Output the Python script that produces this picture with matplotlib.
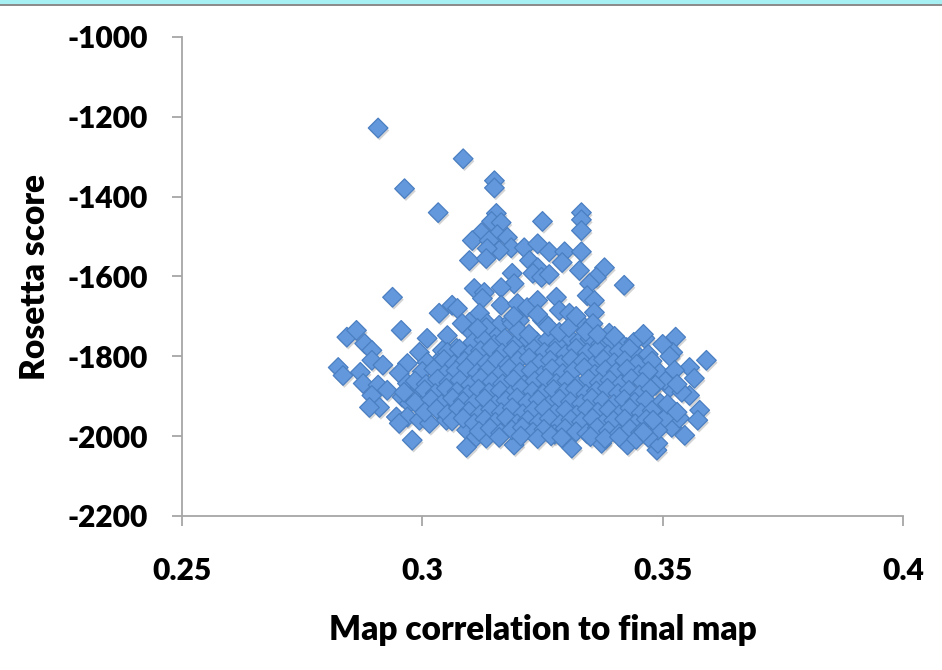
import matplotlib
matplotlib.use("Agg")
import matplotlib.pyplot as plt
import matplotlib.patheffects as pe
from matplotlib.patches import Rectangle

# ---- data ----
points = [
    # sparse upper / outer points
    (0.2908, -1228), (0.3085, -1305), (0.2963, -1380), (0.3033, -1440),
    (0.3150, -1360), (0.3150, -1378), (0.3154, -1442), (0.3250, -1462),
    (0.3331, -1440), (0.3331, -1458), (0.3331, -1485), (0.3144, -1462),
    (0.3164, -1465), (0.3123, -1490), (0.3104, -1510), (0.3156, -1495),
    (0.3177, -1502), (0.3139, -1510), (0.3185, -1528), (0.3160, -1535),
    (0.3135, -1530), (0.3098, -1560), (0.3133, -1555), (0.3212, -1528),
    (0.3240, -1518), (0.3264, -1538), (0.3296, -1538), (0.3291, -1565),
    (0.3331, -1538), (0.3223, -1560), (0.3240, -1578), (0.3230, -1592),
    (0.3248, -1602), (0.3264, -1595), (0.3327, -1585), (0.3379, -1578),
    (0.3362, -1602), (0.3348, -1618), (0.3343, -1648), (0.3420, -1622),
    (0.3187, -1592), (0.3191, -1618), (0.3164, -1628), (0.3108, -1630),
    (0.3129, -1640), (0.3125, -1655), (0.2938, -1652), (0.3062, -1672),
    (0.3073, -1680), (0.3035, -1692), (0.3164, -1672), (0.3198, -1668),
    (0.3218, -1678), (0.3240, -1660), (0.3279, -1652), (0.3285, -1685),
    (0.3306, -1692), (0.3327, -1715), (0.3358, -1660), (0.3358, -1690),
    (0.3119, -1692), (0.3098, -1715), (0.3135, -1718), (0.3160, -1722),
    (0.3185, -1710), (0.3202, -1710), (0.3250, -1710), (0.2956, -1735),
    (0.2843, -1752), (0.2863, -1735), (0.2880, -1768), (0.2895, -1785),
    (0.3010, -1755), (0.3052, -1748), (0.3071, -1780), (0.3389, -1742),
    (0.2994, -1790), (0.2969, -1818), (0.2825, -1828), (0.2835, -1848),
    (0.2871, -1840), (0.2895, -1810), (0.2918, -1822), (0.2877, -1868),
    (0.2908, -1872), (0.2895, -1898), (0.2927, -1885), (0.2911, -1928),
    (0.2890, -1928), (0.2952, -1842), (0.2969, -1868), (0.2994, -1878),
    (0.2958, -1902), (0.2973, -1918), (0.2946, -1952), (0.2969, -1952),
    (0.2994, -1960), (0.2979, -2010), (0.2952, -1968), (0.3029, -1818),
    (0.3042, -1785), (0.3071, -1815), (0.3083, -1810), (0.3029, -1860),
    (0.3015, -1902), (0.3035, -1935), (0.3015, -1968), (0.3050, -1960),
    (0.3092, -1985), (0.3092, -2028), (0.3112, -2002), (0.3133, -2005),
    (0.3083, -1718), (0.3104, -1742), (0.3133, -1728), (0.3154, -1752),
    (0.3175, -1760), (0.3187, -1718), (0.3591, -1810), (0.3577, -1935),
    (0.3546, -1998), (0.3519, -1978), (0.3535, -1955), (0.3504, -1955),
    (0.3527, -1752), (0.3521, -1790), (0.3556, -1828), (0.3566, -1855),
    (0.3556, -1898), (0.3515, -1878), (0.3504, -1860), (0.3488, -1835),
    (0.3463, -1755), (0.3452, -1802), (0.3425, -1778), (0.3355, -1718),
    (0.3311, -2030), (0.3191, -2022), (0.3373, -2018), (0.3427, -2022),
    (0.3488, -2035), (0.3490, -2018), (0.3573, -1960),
    # dense core
    (0.3105, -1765), (0.3128, -1758), (0.3150, -1770), (0.3172, -1755),
    (0.3196, -1768), (0.3215, -1752), (0.3238, -1764), (0.3261, -1758),
    (0.3283, -1771), (0.3304, -1750), (0.3327, -1762), (0.3349, -1756),
    (0.3371, -1769), (0.3394, -1760), (0.3418, -1773), (0.3440, -1765),
    (0.3052, -1790), (0.3077, -1782), (0.3099, -1795), (0.3121, -1786),
    (0.3143, -1779), (0.3166, -1792), (0.3188, -1784), (0.3209, -1797),
    (0.3232, -1781), (0.3254, -1790), (0.3276, -1787), (0.3298, -1795),
    (0.3320, -1780), (0.3343, -1791), (0.3365, -1784), (0.3386, -1796),
    (0.3409, -1788), (0.3431, -1781), (0.3470, -1795),
    (0.3010, -1815), (0.3045, -1808), (0.3066, -1820), (0.3088, -1812),
    (0.3111, -1805), (0.3133, -1818), (0.3155, -1809), (0.3177, -1822),
    (0.3199, -1811), (0.3222, -1804), (0.3244, -1817), (0.3266, -1810),
    (0.3289, -1821), (0.3310, -1806), (0.3333, -1814), (0.3355, -1823),
    (0.3377, -1808), (0.3399, -1816), (0.3421, -1811), (0.3446, -1820),
    (0.3478, -1812),
    (0.3000, -1838), (0.3024, -1832), (0.3047, -1845), (0.3070, -1836),
    (0.3092, -1829), (0.3114, -1842), (0.3136, -1834), (0.3159, -1847),
    (0.3181, -1830), (0.3203, -1840), (0.3226, -1836), (0.3248, -1848),
    (0.3270, -1831), (0.3292, -1843), (0.3314, -1837), (0.3337, -1829),
    (0.3359, -1845), (0.3381, -1834), (0.3403, -1840), (0.3426, -1832),
    (0.3450, -1846), (0.3470, -1838),
    (0.2985, -1862), (0.3008, -1870), (0.3032, -1857), (0.3055, -1866),
    (0.3078, -1860), (0.3100, -1872), (0.3122, -1855), (0.3145, -1864),
    (0.3167, -1869), (0.3190, -1858), (0.3212, -1871), (0.3234, -1862),
    (0.3257, -1855), (0.3279, -1868), (0.3301, -1861), (0.3323, -1873),
    (0.3346, -1857), (0.3368, -1866), (0.3390, -1860), (0.3413, -1870),
    (0.3435, -1856), (0.3458, -1865), (0.3485, -1872),
    (0.2962, -1890), (0.3005, -1884), (0.3027, -1893), (0.3050, -1880),
    (0.3072, -1889), (0.3095, -1896), (0.3117, -1882), (0.3139, -1891),
    (0.3162, -1886), (0.3184, -1897), (0.3206, -1879), (0.3229, -1888),
    (0.3251, -1894), (0.3273, -1883), (0.3296, -1890), (0.3318, -1881),
    (0.3340, -1895), (0.3362, -1887), (0.3385, -1880), (0.3407, -1893),
    (0.3430, -1885), (0.3452, -1897), (0.3475, -1882), (0.3540, -1890),
    (0.2985, -1915), (0.3018, -1908), (0.3040, -1920), (0.3063, -1905),
    (0.3085, -1913), (0.3107, -1918), (0.3130, -1906), (0.3152, -1921),
    (0.3174, -1911), (0.3197, -1904), (0.3219, -1916), (0.3241, -1909),
    (0.3264, -1922), (0.3286, -1907), (0.3308, -1914), (0.3331, -1919),
    (0.3353, -1905), (0.3375, -1912), (0.3398, -1920), (0.3420, -1908),
    (0.3442, -1915), (0.3465, -1910), (0.3495, -1918),
    (0.3005, -1940), (0.3030, -1932), (0.3052, -1945), (0.3075, -1930),
    (0.3097, -1938), (0.3120, -1946), (0.3142, -1933), (0.3164, -1941),
    (0.3187, -1929), (0.3209, -1944), (0.3231, -1936), (0.3254, -1931),
    (0.3276, -1943), (0.3298, -1935), (0.3321, -1947), (0.3343, -1932),
    (0.3365, -1940), (0.3388, -1934), (0.3410, -1946), (0.3432, -1930),
    (0.3455, -1942), (0.3478, -1936),
    (0.3062, -1962), (0.3085, -1955), (0.3108, -1968), (0.3130, -1958),
    (0.3152, -1965), (0.3175, -1954), (0.3197, -1969), (0.3219, -1960),
    (0.3242, -1966), (0.3264, -1956), (0.3287, -1970), (0.3309, -1959),
    (0.3331, -1964), (0.3354, -1955), (0.3376, -1968), (0.3398, -1961),
    (0.3421, -1957), (0.3443, -1969), (0.3466, -1958),
    (0.3118, -1988), (0.3141, -1980), (0.3163, -1992), (0.3186, -1984),
    (0.3208, -1978), (0.3230, -1990), (0.3253, -1983), (0.3275, -1995),
    (0.3297, -1981), (0.3320, -1989), (0.3342, -1993), (0.3364, -1979),
    (0.3387, -1987), (0.3409, -1994), (0.3432, -1982), (0.3454, -1991),
    (0.3490, -1985),
    (0.3160, -2003), (0.3205, -2000), (0.3240, -2006), (0.3268, -1999),
    (0.3290, -2004), (0.3350, -2001), (0.3380, -2006), (0.3410, -2002),
    (0.3445, -2008), (0.3470, -2003),
    (0.3115, -1730), (0.3200, -1735), (0.3222, -1745), (0.3262, -1725),
    (0.3285, -1740), (0.3305, -1728), (0.3340, -1738), (0.3365, -1745),
    (0.3400, -1750), (0.3190, -1700), (0.3240, -1695), (0.3320, -1700),
    (0.3460, -1745), (0.3500, -1770), (0.3515, -1800), (0.3525, -1835),
    (0.3530, -1870), (0.3510, -1920), (0.3530, -1940), (0.3480, -1960),
    (0.3460, -1990),
]
map_corr = [p[0] for p in points]
rosetta_score = [p[1] for p in points]

x_ticks = [0.25, 0.3, 0.35, 0.4]
x_tick_labels = ["0.25", "0.3", "0.35", "0.4"]
y_ticks = [-2200, -2000, -1800, -1600, -1400, -1200, -1000]
y_tick_labels = ["-2200", "-2000", "-1800", "-1600", "-1400", "-1200", "-1000"]
x_label = "Map correlation to final map"
y_label = "Rosetta score"

# ---- figure ----
W, H = 942, 670
fig = plt.figure(figsize=(W / 100, H / 100), dpi=100)
plt.rcParams['font.family'] = ['Lato', 'DejaVu Sans']

# top banner strip
fig.patches.append(Rectangle((0, 1 - 4 / H), 1, 4 / H, transform=fig.transFigure,
                             facecolor='#a6f0f4', edgecolor='none'))
fig.patches.append(Rectangle((0, 1 - 5.5 / H), 1, 1.5 / H, transform=fig.transFigure,
                             facecolor='#8c8c8c', edgecolor='none'))

ax = fig.add_axes([182 / W, 1 - 516 / H, (903 - 182) / W, (516 - 37) / H])
sc = ax.scatter(map_corr, rosetta_score, marker='D', s=100,
                facecolor='#6398dc', edgecolor='#4a7fc2', linewidths=0.9, zorder=3)
sc.set_path_effects([pe.SimplePatchShadow(offset=(1.0, -1.8), alpha=0.25,
                                          shadow_rgbFace='#555555'),
                     pe.Normal()])

ax.set_xlim(0.25, 0.4)
ax.set_ylim(-2200, -1000)
ax.set_xticks(x_ticks)
ax.set_xticklabels(x_tick_labels)
ax.set_yticks(y_ticks)
ax.set_yticklabels(y_tick_labels)

for s in ['top', 'right']:
    ax.spines[s].set_visible(False)
for s in ['left', 'bottom']:
    ax.spines[s].set_color('#a6a6a6')
    ax.spines[s].set_linewidth(1.3)

ax.tick_params(axis='both', direction='out', length=7.5, width=1.3, color='#a6a6a6',
               labelsize=21.5, labelcolor='black')
ax.tick_params(axis='y', pad=17)
ax.tick_params(axis='x', pad=22)
for lab in ax.get_xticklabels() + ax.get_yticklabels():
    lab.set_fontweight('heavy')

ax.set_xlabel(x_label, fontsize=24, fontweight='heavy', va='center')
ax.xaxis.set_label_coords(0.5, (516 - 630) / (516 - 37))
ax.set_ylabel(y_label, fontsize=24, fontweight='heavy', va='center')
ax.yaxis.set_label_coords((35 - 182) / (903 - 182), 0.5)

fig.savefig("out.png", dpi=100)
